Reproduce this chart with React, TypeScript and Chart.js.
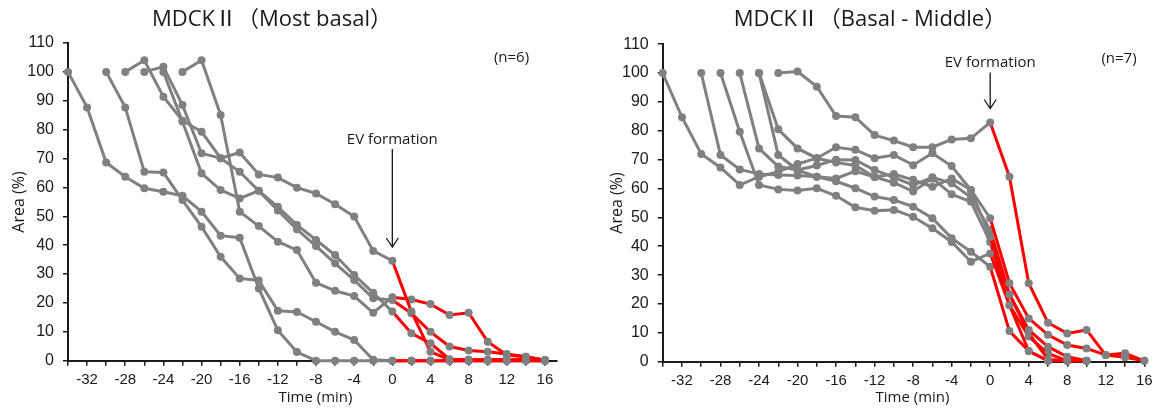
import { useEffect, useRef } from 'react';
import { Chart, registerables } from 'chart.js';

Chart.register(...registerables);

// ---------- data ----------
const TIMES = [-34, -32, -30, -28, -26, -24, -22, -20, -18, -16, -14, -12, -10, -8, -6, -4, -2, 0, 2, 4, 6, 8, 10, 12, 14, 16];
const X_TICKS = [-34, -32, -30, -28, -26, -24, -22, -20, -18, -16, -14, -12, -10, -8, -6, -4, -2, 0, 2, 4, 6, 8, 10, 12, 14, 16];
const X_LABELS = [-32, -28, -24, -20, -16, -12, -8, -4, 0, 4, 8, 12, 16];
const Y_TICKS = [0, 10, 20, 30, 40, 50, 60, 70, 80, 90, 100, 110];
const EV_TIME = 0;

const LEFT_TITLE = 'MDCKⅡ（Most basal）';
const RIGHT_TITLE = 'MDCKⅡ（Basal - Middle）';
const LEFT_N = '(n=6)';
const RIGHT_N = '(n=7)';
const EV_LABEL = 'EV formation';
const X_TITLE = 'Time (min)';
const Y_TITLE = 'Area (%)';

const LEFT_CELL_1 = [100, 87.7, 68.6, 63.7, 59.7, 58.5, 57.1, 51.6, 43.3, 42.6, 25, 10.5, 3, 0, 0, 0, 0, 0, 0, 0, 0, 0, 0, 0, 0, 0];
const LEFT_CELL_2 = [null, null, 100, 87.7, 65.4, 65.2, 55.6, 46.4, 36, 28.5, 27.8, 17.3, 16.9, 13.5, 10, 7.2, 0.3, 0, 0, 0, 0, 0, 0, 0, 0, 0];
const LEFT_CELL_3 = [null, null, null, 100, 104, 91.4, 83.1, 79.3, 70.1, 65.4, 58.8, 53.3, 47, 41.8, 36.6, 29.7, 23.5, 17, 9.5, 6, 0.5, 0.3, 0.3, 0.3, 0.3, 0];
const LEFT_CELL_4 = [null, null, null, null, 100, 101.8, 88.5, 71.8, 70.1, 72.1, 64.5, 63.4, 59.9, 57.9, 54.2, 49.9, 38, 34.6, 17, 3.1, 0.3, 0.3, 0.3, 0.3, 0.3, 0];
const LEFT_CELL_5 = [null, null, null, null, null, 100, 82.8, 64.9, 59.1, 56.2, 58.8, 52, 45.5, 39.7, 33.7, 27.9, 21.6, 21, 16.4, 10, 4.9, 3.5, 3.1, 2.3, 1.4, 0.2];
const LEFT_CELL_6 = [null, null, null, null, null, null, 100, 104, 85.1, 51.6, 46.6, 41.2, 38.3, 27, 24.2, 22.4, 16.6, 22, 21.2, 19.6, 15.8, 16.6, 6.6, 2, 1.4, 0.2];

const RIGHT_CELL_1 = [100, 84.7, 72, 67.3, 61.2, 64.1, 65.8, 68.5, 70.5, 74.3, 73.4, 70.5, 71.6, 68.1, 72.2, 67.8, 59.5, 49.7, 27.2, 15, 9.3, 5.8, 4.6, 2.3, 1.5, 0.3];
const RIGHT_CELL_2 = [null, null, 100, 71.6, 66.6, 65, 64.7, 64.5, 64.1, 63.5, 66, 64, 65, 63, 60.6, 63.5, 59.5, 43.3, 23.3, 11, 5.2, 1.7, 0.3, null, null, null];
const RIGHT_CELL_3 = [null, null, null, 100, 79.7, 61.2, 59.7, 59.3, 60.1, 57.5, 53.5, 52.3, 52.6, 50.2, 46.2, 41.5, 34.6, 37.5, 19.6, 3.7, 0.3, 0.3, 0.3, null, null, null];
const RIGHT_CELL_4 = [null, null, null, null, 100, 73.9, 67.6, 66.4, 68, 70, 69.9, 66.4, 63.9, 61.2, 63.9, 61.8, 57, 45.6, 23.3, 9.8, 0.8, 0.3, null, null, null, null];
const RIGHT_CELL_5 = [null, null, null, null, null, 100, 80.5, 73.9, 70.5, 69, 68, 64, 62, 59, 63.5, 58, 55.4, 41.5, 19.6, 8.7, 2.9, 0.3, 0.3, null, null, null];
const RIGHT_CELL_6 = [null, null, null, null, null, 100, 71.6, 66.4, 64.1, 62.5, 60.1, 57.2, 56, 53.7, 49.7, 42.8, 38.1, 32.9, 10.6, 3.7, 0.3, null, null, null, null, null];
const RIGHT_CELL_7 = [null, null, null, null, null, null, 100, 100.5, 95.3, 85.1, 84.7, 78.5, 76.6, 74.3, 74.3, 77, 77.4, 82.9, 64.1, 27.2, 13.5, 9.8, 11, 2.3, 2.9, 0.3];

const LEFT_SERIES = [LEFT_CELL_1, LEFT_CELL_2, LEFT_CELL_3, LEFT_CELL_4, LEFT_CELL_5, LEFT_CELL_6];
const RIGHT_SERIES = [RIGHT_CELL_1, RIGHT_CELL_2, RIGHT_CELL_3, RIGHT_CELL_4, RIGHT_CELL_5, RIGHT_CELL_6, RIGHT_CELL_7];

// ---------- styles ----------
const GRAY = '#808080';
const RED = '#ff0000';
const AXIS = '#1a1a1a';
const TEXT = '#1a1a1a';
const TICK_FONT = "'Liberation Sans', Arial, sans-serif";
const ANNOT_FONT = "'Open Sans', 'Noto Sans CJK JP', sans-serif";

type PanelSpec = {
  left: number;
  width: number;
  series: (number | null)[][];
  xMax: number;
  padTop: number;
  padRight: number;
  yWidth: number;
  xHeight: number;
  title: string;
  titleX: number;
  nText: string;
  nX: number;
  nY: number;
  evTextY: number;
  arrowTop: number;
  arrowBottom: number;
  yTitleX: number;
  yTitleY: number;
  xTitleX: number;
  xTitleY: number;
};

const PANELS: PanelSpec[] = [
  {
    left: 0, width: 579, series: LEFT_SERIES, xMax: 17.2,
    padTop: 43, padRight: 22.6, yWidth: 68, xHeight: 52.3,
    title: LEFT_TITLE, titleX: 272,
    nText: LEFT_N, nX: 511.5, nY: 62,
    evTextY: 143.5, arrowTop: 149, arrowBottom: 247,
    yTitleX: 19, yTitleY: 202, xTitleX: 315.5, xTitleY: 401.5,
  },
  {
    left: 579, width: 579, series: RIGHT_SERIES, xMax: 16.3,
    padTop: 44.2, padRight: 10.8, yWidth: 83.7, xHeight: 51.3,
    title: RIGHT_TITLE, titleX: 291,
    nText: RIGHT_N, nX: 540, nY: 63,
    evTextY: 66.5, arrowTop: 72.5, arrowBottom: 108.5,
    yTitleX: 38, yTitleY: 203, xTitleX: 333.5, xTitleY: 401.7,
  },
];

function Panel({ spec }: { spec: PanelSpec }) {
  const ref = useRef<HTMLCanvasElement>(null);

  useEffect(() => {
    const canvas = ref.current;
    if (!canvas) return;

    const annotations = {
      id: 'annotations',
      afterDraw(chart: any) {
        const ctx = chart.ctx as CanvasRenderingContext2D;
        const xs = chart.scales.x;
        ctx.save();
        ctx.fillStyle = TEXT;
        ctx.strokeStyle = TEXT;
        ctx.textAlign = 'center';
        ctx.textBaseline = 'alphabetic';

        ctx.font = `22px ${ANNOT_FONT}`;
        ctx.fillText(spec.title, spec.titleX, 26);

        ctx.font = `15px ${ANNOT_FONT}`;
        ctx.fillText(spec.nText, spec.nX, spec.nY);

        const ax = xs.getPixelForValue(EV_TIME);
        ctx.fillText(EV_LABEL, ax, spec.evTextY);
        ctx.lineWidth = 1.3;
        ctx.beginPath();
        ctx.moveTo(ax, spec.arrowTop);
        ctx.lineTo(ax, spec.arrowBottom);
        ctx.moveTo(ax - 6, spec.arrowBottom - 9);
        ctx.lineTo(ax, spec.arrowBottom);
        ctx.lineTo(ax + 6, spec.arrowBottom - 9);
        ctx.stroke();

        ctx.fillText(X_TITLE, spec.xTitleX, spec.xTitleY);

        ctx.font = `16px ${ANNOT_FONT}`;
        ctx.translate(spec.yTitleX, spec.yTitleY);
        ctx.rotate(-Math.PI / 2);
        ctx.textBaseline = 'middle';
        ctx.fillText(Y_TITLE, 0, 0);
        ctx.restore();
      },
    };

    const datasets = spec.series.map((vals) => ({
      data: TIMES.map((t, i) => (vals[i] == null ? null : { x: t, y: vals[i] as number })).filter(Boolean) as { x: number; y: number }[],
      borderColor: GRAY,
      borderWidth: 3,
      pointRadius: 4,
      pointBackgroundColor: GRAY,
      pointBorderColor: GRAY,
      pointBorderWidth: 0,
      tension: 0,
      fill: false,
      clip: false as any,
      segment: {
        borderColor: (c: any) => (c.p0.parsed.x >= EV_TIME ? RED : GRAY),
      },
    }));

    const chart = new Chart(canvas, {
      type: 'line',
      data: { datasets },
      plugins: [annotations],
      options: {
        responsive: false,
        animation: false,
        events: [],
        layout: { padding: { left: 0, top: spec.padTop, right: spec.padRight, bottom: 0 } },
        plugins: { legend: { display: false }, tooltip: { enabled: false }, title: { display: false } },
        scales: {
          x: {
            type: 'linear',
            min: -34,
            max: spec.xMax,
            afterBuildTicks: (s: any) => { s.ticks = X_TICKS.map((v) => ({ value: v })); },
            afterFit: (s: any) => { s.height = spec.xHeight; },
            ticks: {
              autoSkip: false,
              maxRotation: 0,
              padding: 5,
              color: TEXT,
              font: { family: TICK_FONT, size: 15 },
              callback: (v: any) => (X_LABELS.includes(Number(v)) ? String(v) : ''),
            },
            grid: { drawOnChartArea: false, drawTicks: true, tickLength: 5, color: AXIS, lineWidth: 1.5 },
            border: { display: true, color: AXIS, width: 2 },
          },
          y: {
            type: 'linear',
            min: 0,
            max: 110,
            afterBuildTicks: (s: any) => { s.ticks = Y_TICKS.map((v) => ({ value: v })); },
            afterFit: (s: any) => { s.width = spec.yWidth; },
            ticks: {
              padding: 9,
              color: TEXT,
              font: { family: TICK_FONT, size: 16 },
            },
            grid: { drawOnChartArea: false, drawTicks: true, tickLength: 5, color: AXIS, lineWidth: 1.5 },
            border: { display: true, color: AXIS, width: 2 },
          },
        },
      },
    } as any);

    return () => chart.destroy();
  }, [spec]);

  return (
    <canvas
      ref={ref}
      width={spec.width}
      height={413}
      style={{ position: 'absolute', left: spec.left, top: 0, width: spec.width, height: 413 }}
    />
  );
}

export default function App() {
  return (
    <div style={{ position: 'fixed', left: 0, top: 0, width: 1158, height: 413, background: '#fff', overflow: 'hidden' }}>
      {PANELS.map((p, i) => (
        <Panel key={i} spec={p} />
      ))}
    </div>
  );
}
